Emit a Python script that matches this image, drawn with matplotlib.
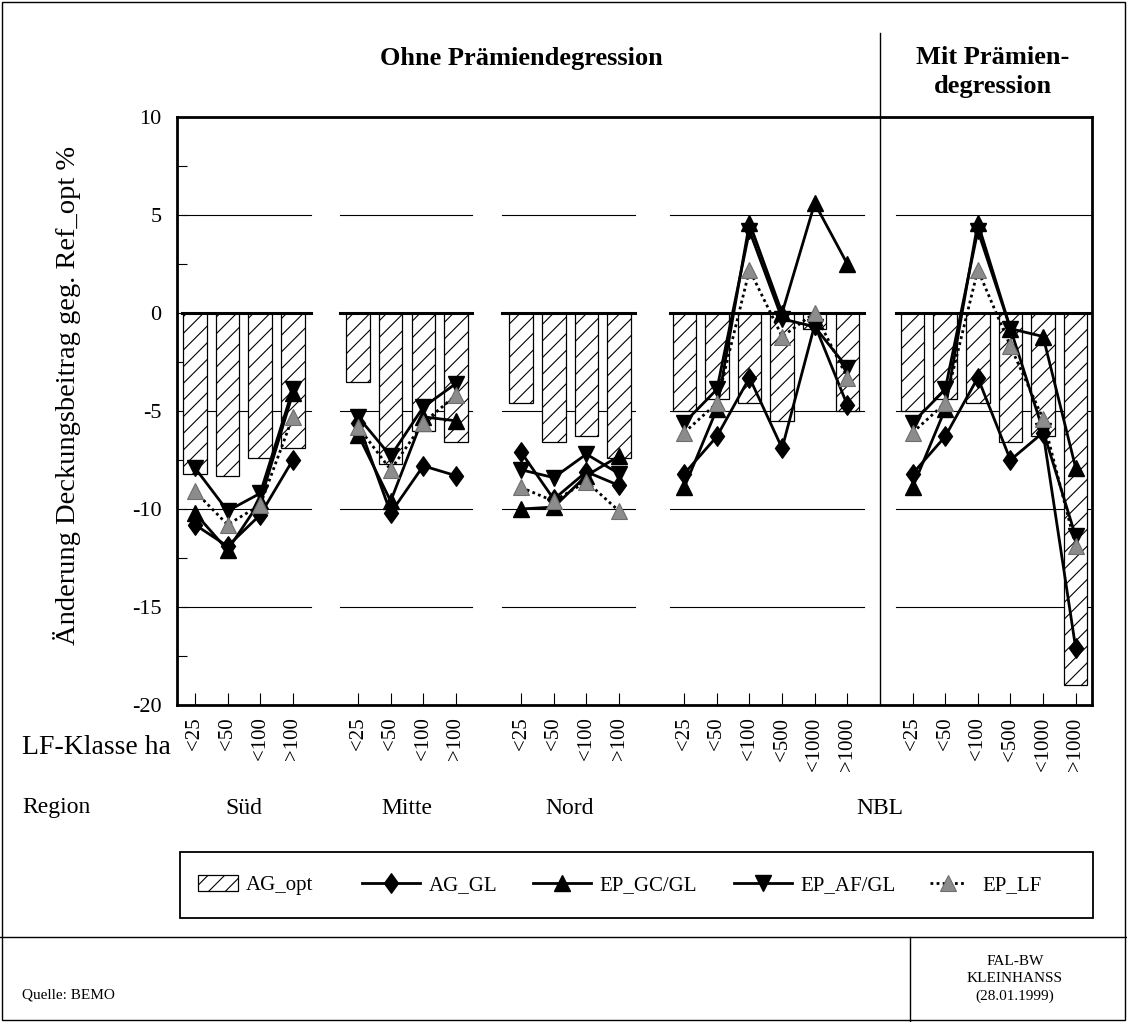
import matplotlib
matplotlib.use("Agg")
import matplotlib.pyplot as plt
import matplotlib.transforms as mtransforms
from matplotlib.patches import Patch, Rectangle
from matplotlib.lines import Line2D
from matplotlib.path import Path
import numpy as np

plt.rcParams['font.family'] = ['Liberation Serif', 'DejaVu Serif']
plt.rcParams['hatch.linewidth'] = 0.8

# ---------------- data ----------------
region_names = ['Süd', 'Mitte', 'Nord', 'NBL', 'NBL']
group_sizes = [4, 4, 4, 6, 6]
tick_labels = ['<25', '<50', '<100', '>100',
               '<25', '<50', '<100', '>100',
               '<25', '<50', '<100', '>100',
               '<25', '<50', '<100', '<500', '<1000', '>1000',
               '<25', '<50', '<100', '<500', '<1000', '>1000']

ag_opt = [-8.2, -8.3, -7.4, -6.9,
          -3.5, -7.7, -6.0, -6.6,
          -4.6, -6.6, -6.3, -7.4,
          -5.0, -4.4, -4.6, -5.5, -0.8, -5.0,
          -5.0, -4.4, -4.6, -6.6, -6.3, -19.0]
ag_gl = [-10.8, -11.9, -10.3, -7.5,
         -5.6, -10.2, -7.8, -8.3,
         -7.1, -9.5, -8.1, -8.8,
         -8.2, -6.3, -3.3, -6.9, -0.6, -4.7,
         -8.2, -6.3, -3.3, -7.5, -6.1, -17.1]
ep_gc_gl = [-10.2, -12.1, -9.6, -4.1,
            -6.2, -9.6, -5.3, -5.5,
            -10.0, -9.9, -8.3, -7.3,
            -8.9, -4.9, 4.6, 0.0, 5.6, 2.5,
            -8.9, -4.9, 4.6, -0.8, -1.2, -7.9]
ep_af_gl = [-7.9, -10.1, -9.2, -3.9,
            -5.3, -7.3, -4.8, -3.6,
            -8.0, -8.4, -7.2, -8.2,
            -5.6, -3.9, 4.2, -0.3, -0.7, -2.8,
            -5.6, -3.9, 4.2, -0.8, -6.0, -11.4]
ep_lf = [-9.1, -10.8, -9.8, -5.3,
         -5.8, -8.0, -5.6, -4.2,
         -8.9, -9.6, -8.6, -10.1,
         -6.1, -4.6, 2.2, -1.2, 0.0, -3.3,
         -6.1, -4.6, 2.2, -1.7, -5.4, -11.9]

# ---------------- layout ----------------
starts = []
s = 0
for n in group_sizes:
    starts.append(s)
    s += n + 1
xpos = np.concatenate([np.arange(st, st + n) for st, n in zip(starts, group_sizes)])
bounds = np.cumsum([0] + group_sizes)

W, H = 1127, 1022
fig = plt.figure(figsize=(W/100, H/100), dpi=100)
ax = fig.add_axes([177/W, 1-705/H, (1092-177)/W, (705-117)/H])
ax.set_xlim(-0.55, 27.5)
ax.set_ylim(-20, 10)
trans = mtransforms.blended_transform_factory(ax.transData, fig.transFigure)

# gridline segments per group
seg_ext = [(-0.4, 3.55), (4.45, 8.5), (9.4, 13.5), (14.55, 20.5), (21.5, 27.5)]
for (a, b) in seg_ext:
    for yv in [5, -5, -10, -15]:
        ax.plot([a, b], [yv, yv], color='black', lw=0.8, zorder=1)

# bars
ax.bar(xpos, ag_opt, width=0.72, color='white', edgecolor='black',
       hatch='//', linewidth=0.9, zorder=2)

for (a, b) in seg_ext:
    ax.plot([a, b], [0, 0], color='black', lw=2.2, zorder=3)

diamond = Path([(0, 1), (0.72, 0), (0, -1), (-0.72, 0), (0, 1)],
               [Path.MOVETO, Path.LINETO, Path.LINETO, Path.LINETO, Path.CLOSEPOLY])

series = [
    (ag_gl, dict(color='black', lw=2.0, ls='-', marker=diamond, ms=14, mfc='black', mec='black')),
    (ep_gc_gl, dict(color='black', lw=2.0, ls='-', marker='^', ms=12, mfc='black', mec='black')),
    (ep_af_gl, dict(color='black', lw=2.0, ls='-', marker='v', ms=12, mfc='black', mec='black')),
    (ep_lf, dict(color='black', lw=2.0, ls=(0, (1, 1.2)), marker='^', ms=12,
                 mfc='#8c8c8c', mec='#6e6e6e', mew=0.8)),
]
for k, (vals, kw) in enumerate(series):
    for g in range(len(group_sizes)):
        i0, i1 = bounds[g], bounds[g + 1]
        ax.plot(xpos[i0:i1], vals[i0:i1], zorder=4 + k, clip_on=False, **kw)

# divider line
ax.plot([21, 21], [-20, 14.3], color='black', lw=1.0, clip_on=False, zorder=6)

# axes styling
for sp in ax.spines.values():
    sp.set_linewidth(2.0)
ax.set_yticks(np.arange(-20, 10.1, 5))
ax.set_yticks(np.arange(-17.5, 10, 5), minor=True)
ax.set_yticklabels(['-20', '-15', '-10', '-5', '0', '5', '10'], fontsize=16)
ax.tick_params(axis='y', which='both', direction='in', length=7.5, width=0.8, pad=11)
ax.set_xticks(xpos)
ax.set_xticklabels(tick_labels, rotation=90, fontsize=15, va='top', ha='center')
ax.tick_params(axis='x', direction='in', length=9, width=0.8, pad=9)

# texts
fig.text(67/W, 1-395/H, 'Änderung Deckungsbeitrag geg. Ref_opt %', rotation=90,
         ha='center', va='center', fontsize=20.5)
fig.text(10.0, 1-58/H, 'Ohne Prämiendegression', transform=trans,
         ha='center', va='center', fontsize=19, fontweight='bold')
fig.text(24.45, 1-72/H, 'Mit Prämien-\ndegression', transform=trans,
         ha='center', va='center', fontsize=19, fontweight='bold', linespacing=1.3)
fig.text(22/W, 1-748/H, 'LF-Klasse ha', ha='left', va='center', fontsize=20)
fig.text(22/W, 1-808/H, 'Region', ha='left', va='center', fontsize=17)
reg_centers = [1.5, 6.5, 11.5, 21.0]
for name, xc in zip(region_names[:4], reg_centers):
    fig.text(xc, 1-808/H, name, transform=trans, ha='center', va='center', fontsize=17)

# legend: frame + one entry per column at the reference positions
fig.patches.append(Rectangle((180/W, 1-918/H), (1093-180)/W, 66/H, transform=fig.transFigure,
                             fill=False, edgecolor='black', lw=1.3))
handles = [
    Patch(facecolor='white', edgecolor='black', hatch='//', linewidth=0.9),
    Line2D([], [], **series[0][1]),
    Line2D([], [], **series[1][1]),
    Line2D([], [], **series[2][1]),
    Line2D([], [], **series[3][1]),
]
labels = ['AG_opt', 'AG_GL', 'EP_GC/GL', 'EP_AF/GL', 'EP_LF']
leg_x = [198, 362, 533, 734, 930]
leg_len = [1.9, 2.8, 2.8, 2.8, 1.7]
leg_pad = [0.4, 0.4, 0.4, 0.4, 0.8]
for h, l, x0, hl, hp in zip(handles, labels, leg_x, leg_len, leg_pad):
    fig.legend([h], [l], loc='center left', bbox_to_anchor=(x0/W, 1-885/H),
               fontsize=15, frameon=False, borderpad=0, borderaxespad=0,
               handlelength=hl, handleheight=0.8, handletextpad=hp)

# frame and footer
fig.patches.append(Rectangle((0.002, 0.002), 0.996, 0.996, transform=fig.transFigure,
                             fill=False, edgecolor='black', lw=1.0))
fig.lines.append(Line2D([0, 1], [1-937/H]*2, transform=fig.transFigure, color='black', lw=1.0))
fig.lines.append(Line2D([910/W]*2, [0, 1-937/H], transform=fig.transFigure, color='black', lw=1.0))
fig.text(22/W, 1-995/H, 'Quelle: BEMO', ha='left', va='center', fontsize=11)
fig.text(1015/W, 1-979/H, 'FAL-BW\nKLEINHANSS\n(28.01.1999)', ha='center', va='center',
         fontsize=11, linespacing=1.45)

fig.savefig('out.png', dpi=100)
